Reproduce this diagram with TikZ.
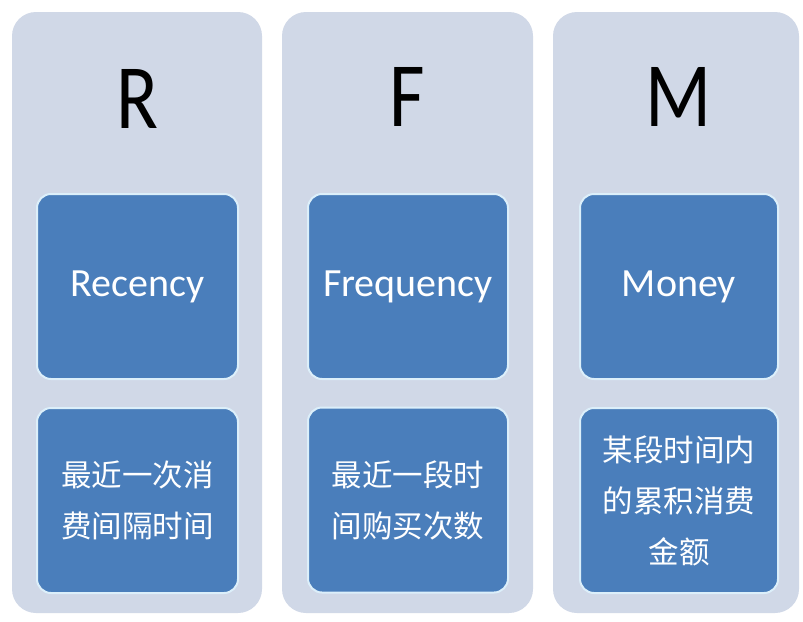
\documentclass[tikz,border=0pt]{standalone}
\usepackage{fontspec}
\setmainfont{Carlito}
\newfontfamily\cjk{Noto Sans CJK SC}
\definecolor{colbg}{HTML}{D0D8E7}
\definecolor{boxfill}{HTML}{4A7EBB}
\definecolor{boxline}{HTML}{DCEFFA}
\newcommand{\narrowhead}[1]{\scalebox{0.84}[1]{#1}}
\tikzset{
  column/.style={fill=colbg, draw=none, rounded corners=24pt, inner sep=0pt},
  card/.style={fill=boxfill, draw=boxline, line width=2pt, rounded corners=14pt,
    inner sep=0pt, text=white, align=center},
  head/.style={font=\fontsize{92}{100}\selectfont, text=black, inner sep=0pt},
  eng/.style={font=\fontsize{40}{46}\selectfont},
  chn/.style={font=\cjk\fontsize{30.5}{51}\selectfont},
}
\begin{document}
\begin{tikzpicture}[x=1pt,y=-1pt]
\useasboundingbox (0,0) rectangle (803,621);
\fill[white] (0,0) rectangle (803,621);
% columns
\node[column, minimum width=250pt, minimum height=601pt] (c1) at (137,312.5) {};
\node[column, minimum width=251pt, minimum height=601pt] (c2) at (407.5,312.5) {};
\node[column, minimum width=246pt, minimum height=601pt] (c3) at (676,312.5) {};
% headings
\node[head] (h1) at (137,99) {\narrowhead{R}};
\node[head] (h2) at (407.5,97) {\narrowhead{F}};
\node[head] (h3) at (679,97) {\narrowhead{M}};
% upper cards
\node[card, eng, minimum width=201pt, minimum height=185pt] (u1) at (137.5,286.5) {Recency};
\node[card, eng, minimum width=200pt, minimum height=185pt] (u2) at (408,286.5) {Frequency};
\node[card, eng, minimum width=198pt, minimum height=185pt] (u3) at (679,286.5) {Money};
% lower cards
\node[card, minimum width=201pt, minimum height=185pt] (l1) at (137.5,500.5) {};
\node[card, minimum width=200pt, minimum height=185pt] (l2) at (408,500) {};
\node[card, minimum width=198pt, minimum height=185pt] (l3) at (679,500.5) {};
\node[chn, text=white, align=center] (t1) at (l1) {最近一次消\\费间隔时间};
\node[chn, text=white, align=center] (t2) at (l2) {最近一段时\\间购买次数};
\node[chn, text=white, align=center] (t3) at (l3) {某段时间内\\的累积消费\\金额};
\end{tikzpicture}
\end{document}
